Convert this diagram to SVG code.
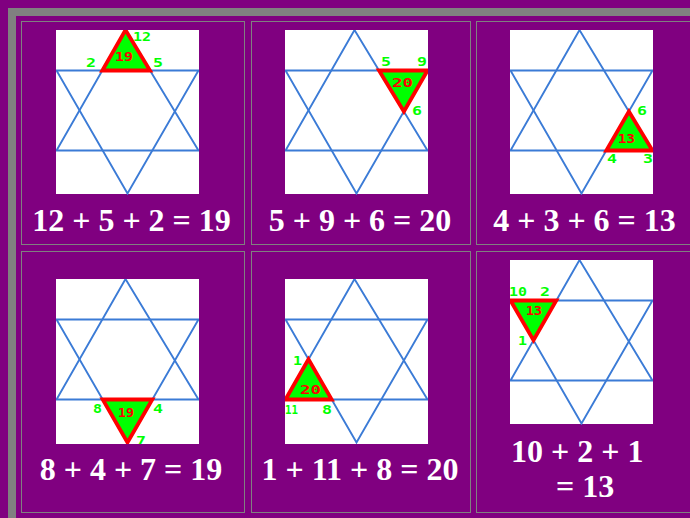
<svg xmlns="http://www.w3.org/2000/svg" xmlns:xlink="http://www.w3.org/1999/xlink" width="690" height="518" viewBox="0 0 690 518">
<style>
.frame{fill:none;stroke:#808080;stroke-width:8}
.cell{fill:none;stroke:#808080;stroke-width:1}
.img{fill:#ffffff}
.star{fill:none;stroke:#3b7bd6;stroke-width:1.9;stroke-linejoin:miter}
.tri{fill:#00ff00;stroke:#ff0000;stroke-width:3.8;stroke-linejoin:miter}
.lab{font-family:"DejaVu Sans Mono","Liberation Mono",monospace;font-size:12px;font-weight:bold;fill:#00ff00}
.sum{font-family:"DejaVu Sans Mono","Liberation Mono",monospace;font-size:12px;font-weight:bold;fill:#ff0000}
.cap{font-family:"Liberation Serif","Times New Roman",serif;font-weight:bold;font-size:32px;fill:#ffffff;text-anchor:middle}
.capl{font-family:"Liberation Serif","Times New Roman",serif;font-weight:bold;font-size:32px;fill:#ffffff}
</style>
<defs>
<clipPath id="clip"><rect x="0" y="0" width="143" height="165"/></clipPath>
<g id="star">
<path class="star" d="M69.5,0 L0.5,120.5 L142.5,120.5 Z"/>
<path class="star" d="M0.5,40.5 L142.5,40.5 L71.5,163.5 Z"/>
</g>
</defs>
<rect x="0" y="0" width="690" height="518" fill="#800080"/>
<rect class="frame" x="12" y="12" width="700" height="530"/>

<g id="cell-1">
<rect class="cell" x="21.5" y="21.5" width="223" height="223"/>
<g transform="translate(56,30)" clip-path="url(#clip)">
<rect class="img" width="143" height="164"/>
<use href="#star" xlink:href="#star"/>
<polygon class="tri" points="69.5,0 46.3,40.5 94,40.5"/>
<text class="sum" x="59" y="31" textLength="18" lengthAdjust="spacingAndGlyphs">19</text>
<text class="lab" x="77" y="11" textLength="18" lengthAdjust="spacingAndGlyphs">12</text>
<text class="lab" x="30" y="37" textLength="10" lengthAdjust="spacingAndGlyphs">2</text>
<text class="lab" x="97" y="37" textLength="10" lengthAdjust="spacingAndGlyphs">5</text>
</g>
<text class="cap" x="131.5" y="231">12 + 5 + 2 = 19</text>
</g>

<g id="cell-2">
<rect class="cell" x="251.5" y="21.5" width="219" height="223"/>
<g transform="translate(285,30)" clip-path="url(#clip)">
<rect class="img" width="143" height="164"/>
<use href="#star" xlink:href="#star"/>
<polygon class="tri" points="94,40.5 142.5,40.5 118.9,81.5"/>
<text class="sum" x="107" y="57" textLength="21" lengthAdjust="spacingAndGlyphs">20</text>
<text class="lab" x="96" y="36" textLength="10" lengthAdjust="spacingAndGlyphs">5</text>
<text class="lab" x="132" y="36" textLength="10" lengthAdjust="spacingAndGlyphs">9</text>
<text class="lab" x="127" y="85" textLength="10" lengthAdjust="spacingAndGlyphs">6</text>
</g>
<text class="cap" x="360" y="231">5 + 9 + 6 = 20</text>
</g>

<g id="cell-3">
<rect class="cell" x="476.5" y="21.5" width="222" height="223"/>
<g transform="translate(510,30)" clip-path="url(#clip)">
<rect class="img" width="143" height="164"/>
<use href="#star" xlink:href="#star"/>
<polygon class="tri" points="118.9,81.5 96.3,120.5 142.5,120.5"/>
<text class="sum" x="108" y="113" textLength="17" lengthAdjust="spacingAndGlyphs">13</text>
<text class="lab" x="127" y="85" textLength="10" lengthAdjust="spacingAndGlyphs">6</text>
<text class="lab" x="97" y="133" textLength="10" lengthAdjust="spacingAndGlyphs">4</text>
<text class="lab" x="133" y="133" textLength="10" lengthAdjust="spacingAndGlyphs">3</text>
</g>
<text class="cap" x="584.5" y="231">4 + 3 + 6 = 13</text>
</g>

<g id="cell-4">
<rect class="cell" x="21.5" y="251.5" width="223" height="261"/>
<g transform="translate(56,279)" clip-path="url(#clip)">
<rect class="img" width="143" height="165"/>
<use href="#star" xlink:href="#star"/>
<polygon class="tri" points="46.7,120.5 96.3,120.5 71.5,163.5"/>
<text class="sum" x="62" y="138" textLength="16" lengthAdjust="spacingAndGlyphs">19</text>
<text class="lab" x="37" y="134" textLength="9" lengthAdjust="spacingAndGlyphs">8</text>
<text class="lab" x="97" y="134" textLength="10" lengthAdjust="spacingAndGlyphs">4</text>
<text class="lab" x="80" y="166" textLength="10" lengthAdjust="spacingAndGlyphs">7</text>
</g>
<text class="cap" x="131" y="480">8 + 4 + 7 = 19</text>
</g>

<g id="cell-5">
<rect class="cell" x="251.5" y="251.5" width="219" height="261"/>
<g transform="translate(285,279)" clip-path="url(#clip)">
<rect class="img" width="143" height="165"/>
<use href="#star" xlink:href="#star"/>
<polygon class="tri" points="23.5,80.3 0.5,120.5 46.7,120.5"/>
<text class="sum" x="15" y="115" textLength="21" lengthAdjust="spacingAndGlyphs">20</text>
<text class="lab" x="8" y="86" textLength="9" lengthAdjust="spacingAndGlyphs">1</text>
<text class="lab" x="0" y="135" textLength="13" lengthAdjust="spacingAndGlyphs">11</text>
<text class="lab" x="37" y="135" textLength="10" lengthAdjust="spacingAndGlyphs">8</text>
</g>
<text class="cap" x="360" y="480">1 + 11 + 8 = 20</text>
</g>

<g id="cell-6">
<rect class="cell" x="476.5" y="251.5" width="222" height="261"/>
<g transform="translate(510,260)" clip-path="url(#clip)">
<rect class="img" width="143" height="164"/>
<use href="#star" xlink:href="#star"/>
<polygon class="tri" points="0.5,40.5 46.3,40.5 23.5,80.3"/>
<text class="sum" x="16" y="55" textLength="16" lengthAdjust="spacingAndGlyphs">13</text>
<text class="lab" x="-1" y="36" textLength="18" lengthAdjust="spacingAndGlyphs">10</text>
<text class="lab" x="30" y="36" textLength="10" lengthAdjust="spacingAndGlyphs">2</text>
<text class="lab" x="8" y="85" textLength="9" lengthAdjust="spacingAndGlyphs">1</text>
</g>
<text class="capl" x="511" y="462">10 + 2 + 1</text>
<text class="capl" x="556" y="497">= 13</text>
</g>
</svg>
